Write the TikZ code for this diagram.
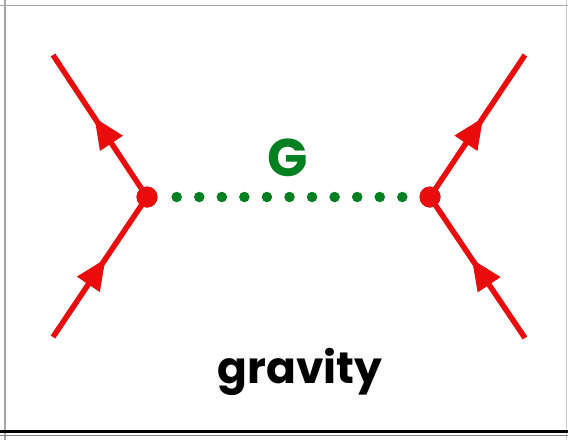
\documentclass[tikz,border=0pt]{standalone}
\usepackage{fontspec}
\setmainfont{Poppins}
\usetikzlibrary{decorations.markings,arrows.meta}
\definecolor{fred}{RGB}{234,12,12}
\definecolor{ggreen}{RGB}{0,128,32}
\begin{document}
\begin{tikzpicture}[x=1pt,y=-1pt,
  fermion/.style={draw=fred,line width=5.5pt,postaction={decorate},
    decoration={markings,mark=at position 0.56 with {\arrow[fred]{Triangle[length=31pt,width=26pt]}}}},
  vertex/.style={circle,fill=fred,inner sep=0pt,minimum size=21pt},
  graviton/.style={draw=ggreen,line width=10.5pt,line cap=round,dash pattern=on 0pt off 22.56pt,
    shorten <=29.7pt,shorten >=27.5pt},
  glabel/.style={font=\bfseries\fontsize{53}{53}\selectfont,text=ggreen},
  tlabel/.style={font=\bfseries\fontsize{44}{44}\selectfont,text=black},
  frameg/.style={draw=gray!70,line width=1.5pt}]
\useasboundingbox (0,0) rectangle (568,440);
\fill[white] (0,0) rectangle (568,440);
% frame
\draw[frameg] (0,5.5) -- (568,5.5);
\draw[frameg] (5,0) -- (5,440);
\draw[draw=gray!40,line width=1pt] (566.5,0) -- (566.5,440);
\draw[draw=gray,line width=1.5pt] (0,435.5) -- (568,435.5);
\draw[draw=black,line width=3pt] (0,431.5) -- (568,431.5);
% nodes
\coordinate (a1) at (53,55);
\coordinate (a2) at (53,337);
\coordinate (b1) at (525,55);
\coordinate (b2) at (525,338);
\node[vertex] (L) at (147,197) {};
\node[vertex] (R) at (430,197) {};
% graviton
\draw[graviton] (L.center) -- (R.center);
% fermions
\draw[fermion] (L.center) -- (a1);
\draw[fermion] (a2) -- (L.center);
\draw[fermion] (R.center) -- (b1);
\draw[fermion] (b2) -- (R.center);
\node[vertex] at (L) {};
\node[vertex] at (R) {};
% labels
\node[glabel,anchor=base] (G) at (288,176) {G};
\node[tlabel,anchor=base] (grav) at (300,383) {gravity};
\end{tikzpicture}
\end{document}
